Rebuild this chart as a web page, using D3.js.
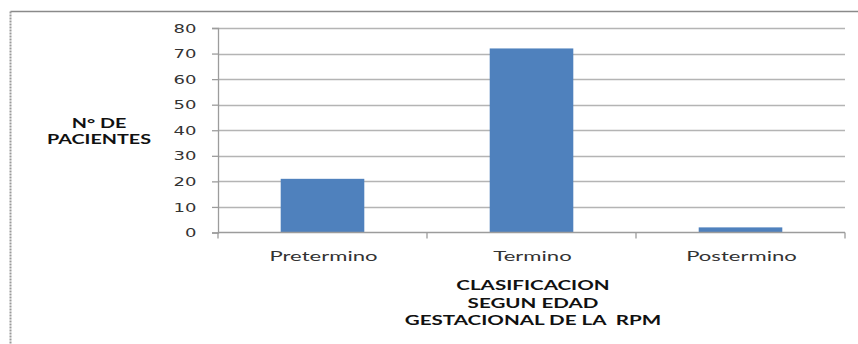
<!DOCTYPE html>
<html>
<head>
<meta charset="utf-8">
<script src="https://cdn.jsdelivr.net/npm/d3@7"></script>
<style>
  html, body { margin: 0; padding: 0; background: #fff; }
  svg { display: block; }
</style>
</head>
<body>
<svg id="chart" width="858" height="344"></svg>
<script>
// Patients by gestational age class at membrane rupture
const categories = ["Pretermino", "Termino", "Postermino"];
const patients = [21, 72, 2];
const yTicks = [0, 10, 20, 30, 40, 50, 60, 70, 80];
const yTitle = ["N° DE", "PACIENTES"];
const xTitle = ["CLASIFICACION", "SEGUN EDAD", "GESTACIONAL DE LA  RPM"];

const svg = d3.select("#chart");
const plot = { left: 218, right: 845, top: 28, bottom: 232.5 };

// wide-set lettering: text is drawn in a group stretched horizontally
function wideText(parent, x, y, sx, str, opts) {
  const g = parent.append("g").attr("transform", `translate(${x},${y}) scale(${sx},1)`);
  const t = g.append("text").attr("x", 0).attr("y", 0)
    .attr("text-anchor", opts.anchor || "middle")
    .attr("font-family", opts.family)
    .attr("font-size", opts.size)
    .attr("font-weight", opts.weight || "normal")
    .attr("fill", opts.fill)
    .attr("xml:space", "preserve")
    .text(str);
  return t;
}

// outer frame (top and left edges visible)
svg.append("line").attr("x1", 10.5).attr("x2", 858).attr("y1", 11.5).attr("y2", 11.5)
  .attr("stroke", "#8a8a8a").attr("stroke-width", 1.5);
svg.append("line").attr("x1", 10.5).attr("x2", 10.5).attr("y1", 11.5).attr("y2", 344)
  .attr("stroke", "#9a9a9a").attr("stroke-width", 2).attr("stroke-dasharray", "2,1");

const x = d3.scaleBand().domain(categories).range([plot.left, plot.right]);
const y = d3.scaleLinear().domain([0, 80]).range([plot.bottom, plot.top]);
const barWidth = x.bandwidth() * 0.4;

// horizontal gridlines
svg.append("g").selectAll("line").data(yTicks.filter(d => d > 0)).join("line")
  .attr("x1", plot.left).attr("x2", plot.right)
  .attr("y1", d => Math.round(y(d)) + 0.5).attr("y2", d => Math.round(y(d)) + 0.5)
  .attr("stroke", "#b4b4b4").attr("stroke-width", 1.3);

// bars
svg.append("g").selectAll("rect").data(categories).join("rect")
  .attr("x", d => x(d) + x.bandwidth() / 2 - barWidth / 2)
  .attr("width", barWidth)
  .attr("y", (d, i) => y(patients[i]))
  .attr("height", (d, i) => y(0) - y(patients[i]))
  .attr("fill", "#4F81BD");

// y axis
const yAxis = svg.append("g").attr("transform", `translate(${plot.left},0)`)
  .call(d3.axisLeft(y).tickValues(yTicks).tickSize(6).tickPadding(15));
yAxis.select(".domain").attr("stroke", "#9c9c9c").attr("stroke-width", 1.3);
yAxis.selectAll(".tick line").attr("stroke", "#9c9c9c").attr("stroke-width", 1.3);
yAxis.selectAll(".tick text")
  .attr("x", 0)
  .attr("dy", "0.36em")
  .attr("transform", "translate(-21.5,0) scale(1.55,1)")
  .attr("fill", "#333")
  .attr("font-family", "DejaVu Sans, sans-serif")
  .attr("font-size", 11.6);

// x axis with ticks at category boundaries
const xAxisG = svg.append("g").attr("transform", `translate(0,${plot.bottom})`);
xAxisG.append("line").attr("x1", plot.left).attr("x2", plot.right)
  .attr("stroke", "#9c9c9c").attr("stroke-width", 1.3);
const bounds = categories.map(c => x(c)).concat([plot.right]);
xAxisG.selectAll("line.tk").data(bounds).join("line").attr("class", "tk")
  .attr("x1", d => d).attr("x2", d => d).attr("y1", 0).attr("y2", 6)
  .attr("stroke", "#9c9c9c").attr("stroke-width", 1.3);
categories.forEach(c => {
  wideText(xAxisG, x(c) + x.bandwidth() / 2 + 1, 28.5, 1.7, c,
    { family: "Lato, sans-serif", size: 13, fill: "#333" });
});

// y title
yTitle.forEach((s, i) => {
  wideText(svg, 99, 128 + i * 15.5, 1.41, s,
    { family: "Lato, sans-serif", size: 14, weight: "bold", fill: "#111" });
});

// x title
xTitle.forEach((s, i) => {
  wideText(svg, 533, 290 + i * 17.5, 1.47, s,
    { family: "Lato, sans-serif", size: 14, weight: "bold", fill: "#111" });
});
</script>
</body>
</html>
